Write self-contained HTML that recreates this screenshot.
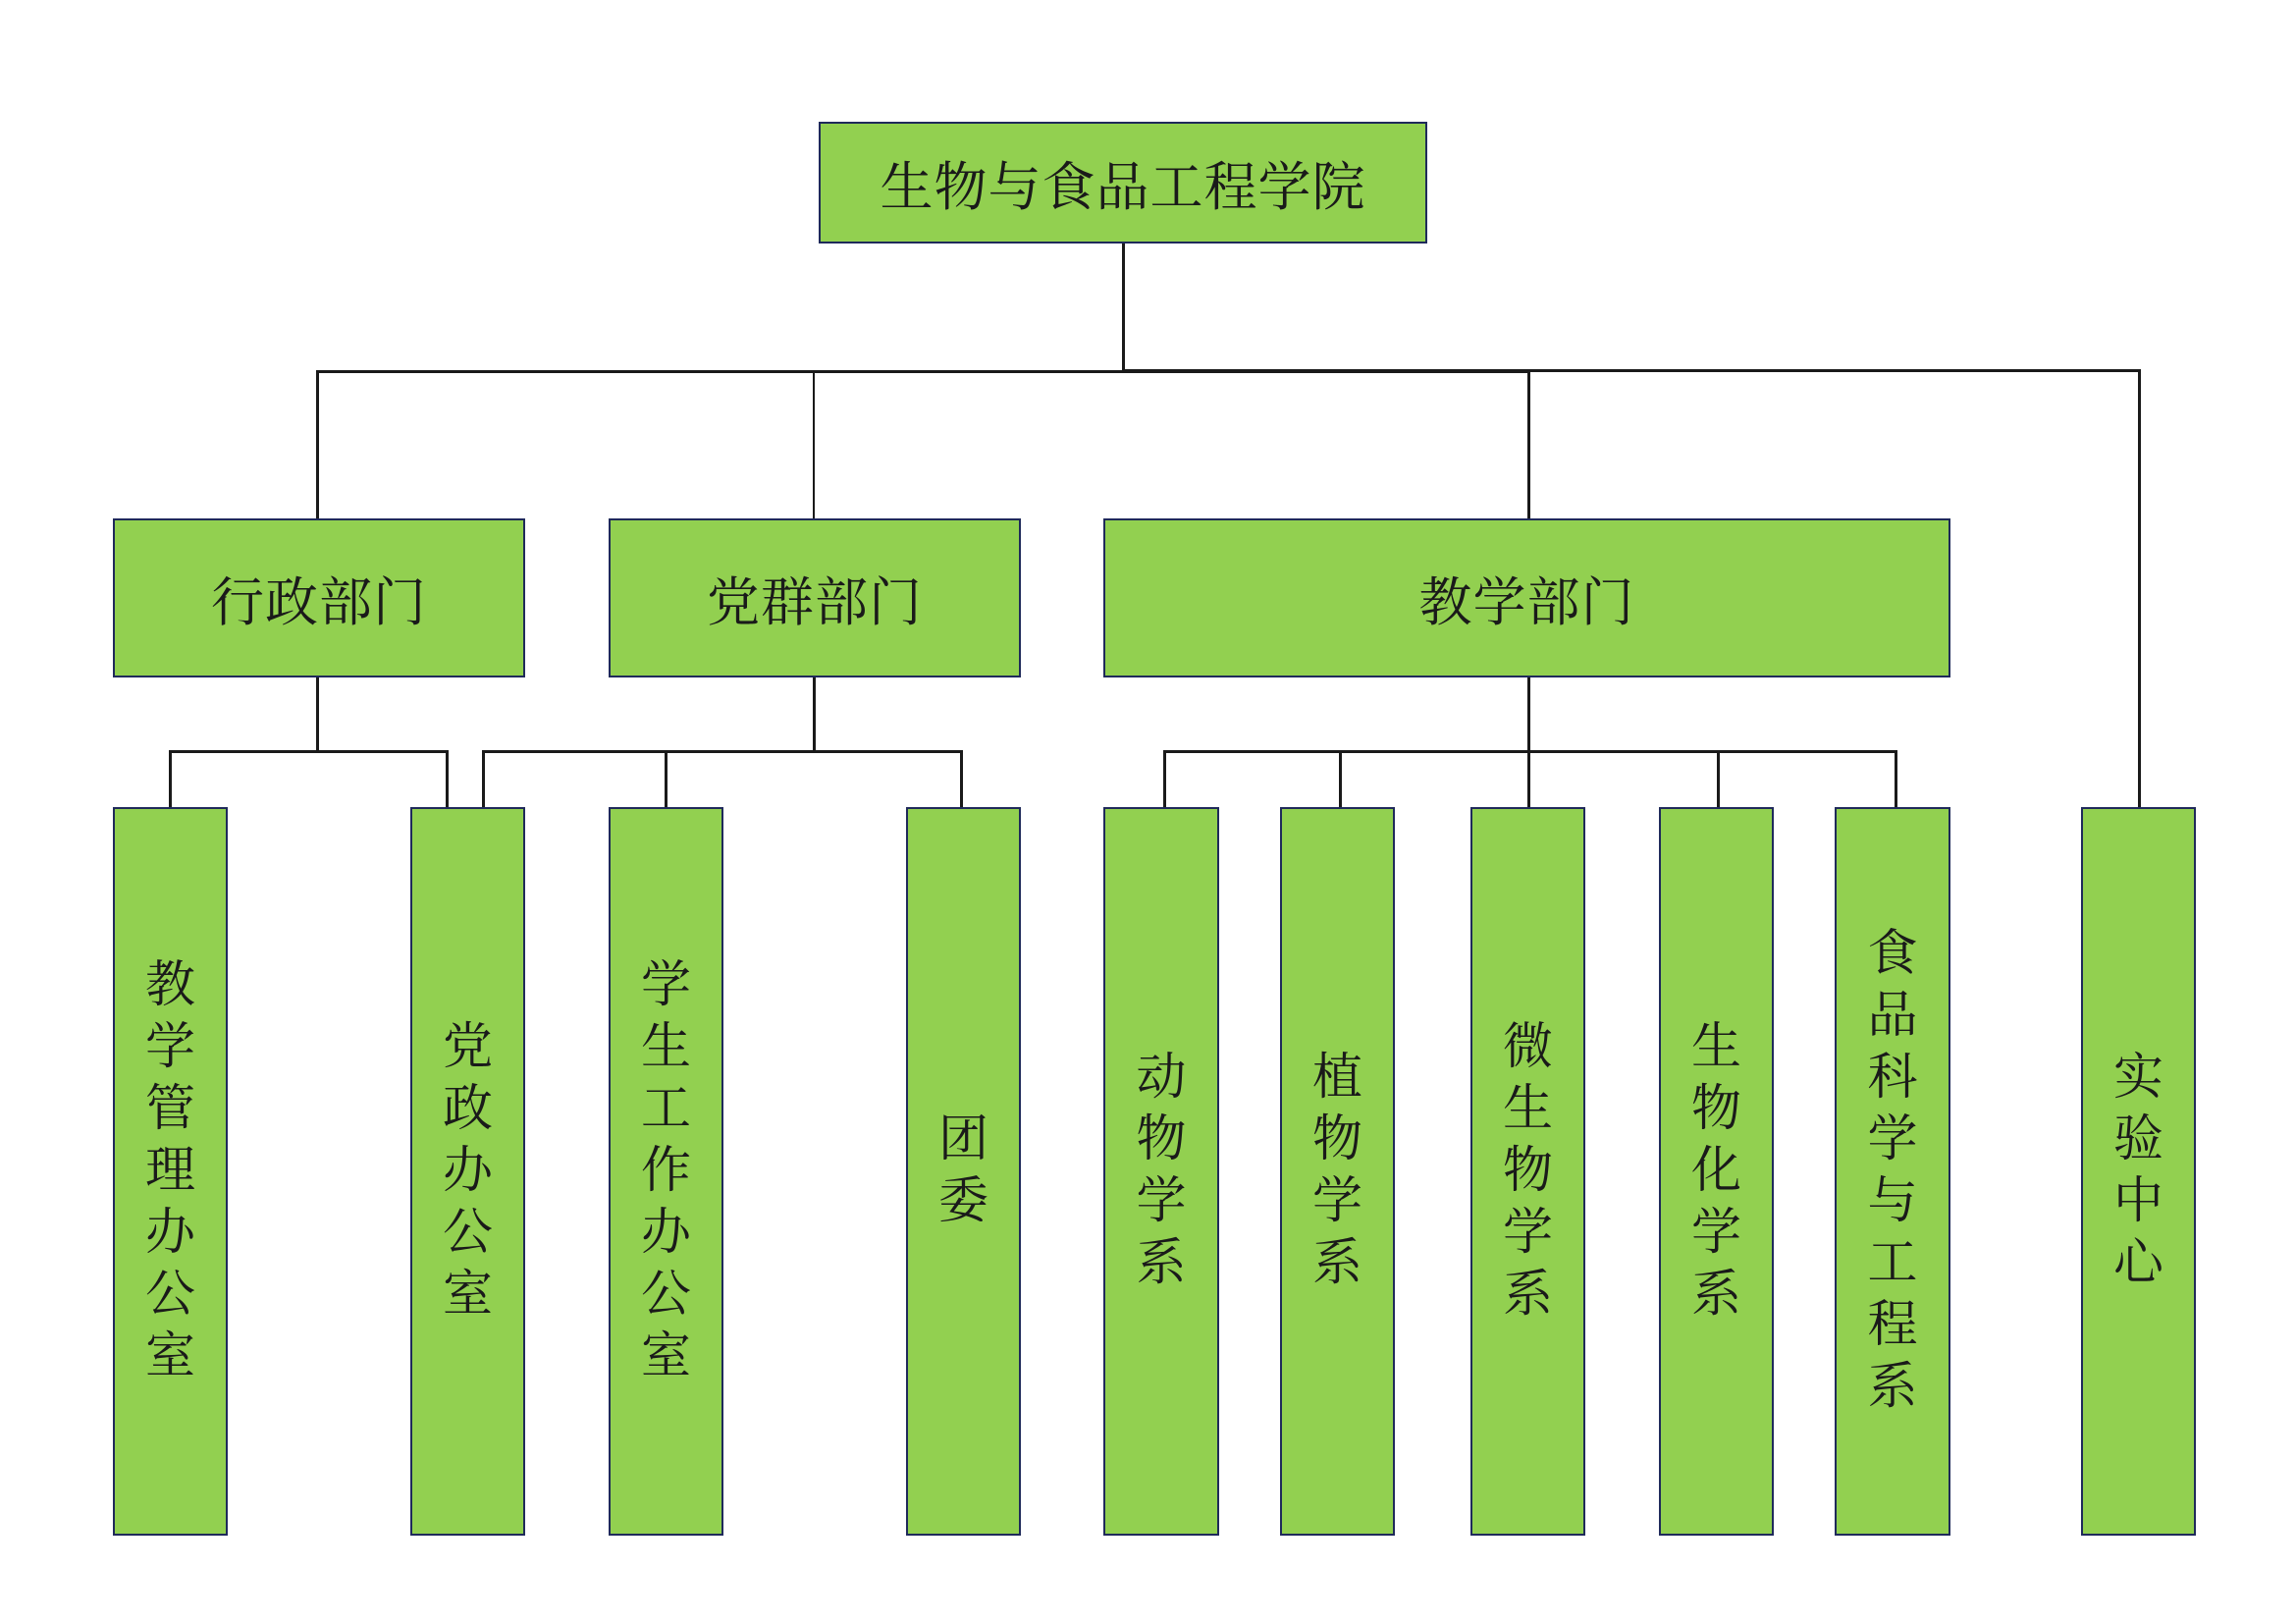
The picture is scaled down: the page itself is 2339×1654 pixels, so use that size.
<!DOCTYPE html>
<html><head><meta charset="utf-8"><style>
body{margin:0;width:2339px;height:1654px;background:#fff;position:relative;overflow:hidden;font-family:"Liberation Serif","Noto Serif CJK SC",serif;color:#1a1a1a}
.b{position:absolute;background:#92D050;border:2px solid #1f2a5a;box-sizing:border-box;display:flex;align-items:center;justify-content:center}
.h{font-size:54px;letter-spacing:1px}
.v{flex-direction:column;font-size:51px;line-height:63px;text-align:center;top:822px;height:742px;width:117px}
.l{position:absolute;background:#1a1a1a}
</style></head><body>
<div class="l" style="left:1143px;top:248px;width:3px;height:131px"></div>
<div class="l" style="left:322px;top:377px;width:1236px;height:3px"></div>
<div class="l" style="left:1144px;top:376px;width:1037px;height:3px"></div>
<div class="l" style="left:322px;top:378px;width:3px;height:152px"></div>
<div class="l" style="left:828px;top:378px;width:2px;height:152px"></div>
<div class="l" style="left:1556px;top:378px;width:3px;height:152px"></div>
<div class="l" style="left:2178px;top:377px;width:3px;height:446px"></div>

<div class="l" style="left:322px;top:689px;width:3px;height:77px"></div>
<div class="l" style="left:172px;top:764px;width:285px;height:3px"></div>
<div class="l" style="left:172px;top:764px;width:3px;height:59px"></div>
<div class="l" style="left:454px;top:764px;width:3px;height:59px"></div>

<div class="l" style="left:828px;top:689px;width:3px;height:77px"></div>
<div class="l" style="left:491px;top:764px;width:490px;height:3px"></div>
<div class="l" style="left:491px;top:764px;width:3px;height:59px"></div>
<div class="l" style="left:677px;top:764px;width:3px;height:59px"></div>
<div class="l" style="left:978px;top:764px;width:3px;height:59px"></div>

<div class="l" style="left:1556px;top:689px;width:3px;height:134px"></div>
<div class="l" style="left:1185px;top:764px;width:748px;height:3px"></div>
<div class="l" style="left:1185px;top:764px;width:3px;height:59px"></div>
<div class="l" style="left:1364px;top:764px;width:3px;height:59px"></div>
<div class="l" style="left:1749px;top:764px;width:3px;height:59px"></div>
<div class="l" style="left:1930px;top:764px;width:3px;height:59px"></div>

<div class="b h" style="left:834px;top:124px;width:620px;height:124px">生物与食品工程学院</div>
<div class="b h" style="left:115px;top:528px;width:420px;height:162px">行政部门</div>
<div class="b h" style="left:620px;top:528px;width:420px;height:162px">党群部门</div>
<div class="b h" style="left:1124px;top:528px;width:863px;height:162px">教学部门</div>

<div class="b v" style="left:115px"><span>教</span><span>学</span><span>管</span><span>理</span><span>办</span><span>公</span><span>室</span></div>
<div class="b v" style="left:418px"><span>党</span><span>政</span><span>办</span><span>公</span><span>室</span></div>
<div class="b v" style="left:620px"><span>学</span><span>生</span><span>工</span><span>作</span><span>办</span><span>公</span><span>室</span></div>
<div class="b v" style="left:923px"><span>团</span><span>委</span></div>
<div class="b v" style="left:1124px;width:118px"><span>动</span><span>物</span><span>学</span><span>系</span></div>
<div class="b v" style="left:1304px"><span>植</span><span>物</span><span>学</span><span>系</span></div>
<div class="b v" style="left:1498px"><span>微</span><span>生</span><span>物</span><span>学</span><span>系</span></div>
<div class="b v" style="left:1690px"><span>生</span><span>物</span><span>化</span><span>学</span><span>系</span></div>
<div class="b v" style="left:1869px;width:118px"><span>食</span><span>品</span><span>科</span><span>学</span><span>与</span><span>工</span><span>程</span><span>系</span></div>
<div class="b v" style="left:2120px"><span>实</span><span>验</span><span>中</span><span>心</span></div>
</body></html>
